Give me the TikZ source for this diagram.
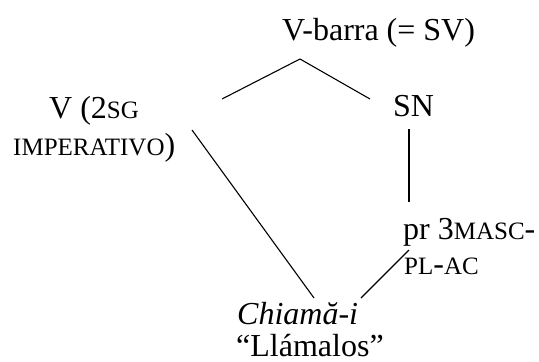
\documentclass[tikz,border=0pt]{standalone}
\usepackage{fontspec}
\setmainfont{Liberation Serif}
% fake small capitals: capitals at a reduced size
\newcommand{\smc}[1]{{\fontsize{25}{28}\selectfont #1}}
\begin{document}
\begin{tikzpicture}[x=1pt,y=-1pt,
  lbl/.style={anchor=base west,inner sep=0pt,font=\fontsize{32}{38}\selectfont},
  branch/.style={line width=1.1pt}]
\useasboundingbox (0,0) rectangle (539,362);
% labels
\node[lbl] (vbar) at (282,40) {V-barra (= SV)};
\node[lbl] (v1) at (49,118) {V (2\smc{SG}};
\node[lbl] (v2) at (13,155) {\smc{IMPERATIVO})};
\node[lbl] (sn) at (393,116) {SN};
\node[lbl] (pr1) at (403,239) {pr 3\smc{MASC}-};
\node[lbl] (pr2) at (404,274) {\smc{PL}-\smc{AC}};
\node[lbl] (ch) at (237,324) {\itshape Chiamă-i};
\node[lbl] (gl) at (236,356) {“Llámalos”};
% branch end points
\coordinate (top) at (300,59);
\coordinate (vbl) at (222,99);
\coordinate (vbr) at (370,99);
\coordinate (vlo) at (192,130);
\coordinate (snlo) at (409,129);
\coordinate (snbot) at (409,202);
\coordinate (prup) at (409,250);
\coordinate (chl) at (314,298);
\coordinate (chr) at (361,298);
% branches
\draw[branch] (vbl) -- (top) -- (vbr);
\draw[branch] (vlo) -- (chl);
\draw[branch] (snlo) -- (snbot);
\draw[branch] (prup) -- (chr);
\end{tikzpicture}
\end{document}
